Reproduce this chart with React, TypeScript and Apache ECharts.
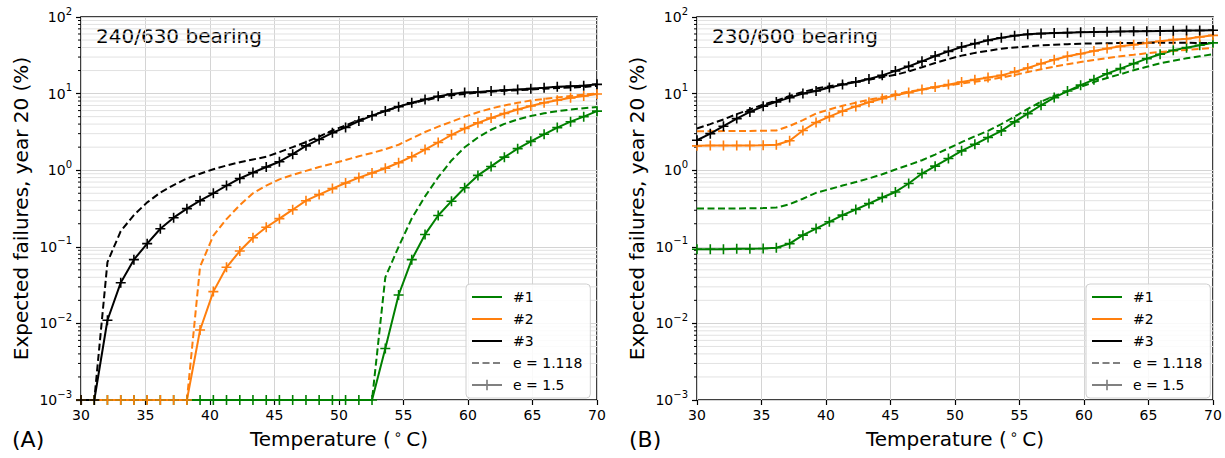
import React, { useEffect, useRef } from 'react';
import * as echarts from 'echarts';

// Temperature sample points (°C)
const TEMPS = [30.0, 31.03, 32.05, 33.08, 34.1, 35.13, 36.15, 37.18, 38.21, 39.23, 40.26, 41.28, 42.31, 43.33, 44.36, 45.38, 46.41, 47.44, 48.46, 49.49, 50.51, 51.54, 52.56, 53.59, 54.62, 55.64, 56.67, 57.69, 58.72, 59.74, 60.77, 61.79, 62.82, 63.85, 64.87, 65.9, 66.92, 67.95, 68.97, 70.0];

// Panel A: 240/630 bearing
const A1_E1118 = [0.001, 0.001, 0.001, 0.001, 0.001, 0.001, 0.001, 0.001, 0.001, 0.001, 0.001, 0.001, 0.001, 0.001, 0.001, 0.001, 0.001, 0.001, 0.001, 0.001, 0.001, 0.001, 0.001, 0.04, 0.1, 0.235, 0.455, 0.81, 1.34, 1.99, 2.67, 3.37, 4.02, 4.6, 5.1, 5.53, 5.9, 6.2, 6.45, 6.7];
const A1_E15 = [0.001, 0.001, 0.001, 0.001, 0.001, 0.001, 0.001, 0.001, 0.001, 0.001, 0.001, 0.001, 0.001, 0.001, 0.001, 0.001, 0.001, 0.001, 0.001, 0.001, 0.001, 0.001, 0.001, 0.0047, 0.0235, 0.068, 0.145, 0.256, 0.394, 0.59, 0.855, 1.12, 1.48, 1.91, 2.38, 2.94, 3.6, 4.3, 5.0, 5.9];
const A2_E1118 = [0.001, 0.001, 0.001, 0.001, 0.001, 0.001, 0.001, 0.001, 0.001, 0.055, 0.14, 0.23, 0.35, 0.5, 0.63, 0.76, 0.87, 0.98, 1.1, 1.22, 1.36, 1.52, 1.68, 1.88, 2.15, 2.6, 3.15, 3.7, 4.3, 5.0, 5.7, 6.4, 7.0, 7.6, 8.1, 8.5, 8.9, 9.3, 9.7, 10.0];
const A2_E15 = [0.001, 0.001, 0.001, 0.001, 0.001, 0.001, 0.001, 0.001, 0.001, 0.0082, 0.026, 0.054, 0.088, 0.131, 0.18, 0.233, 0.305, 0.4, 0.48, 0.575, 0.68, 0.8, 0.92, 1.06, 1.25, 1.5, 1.86, 2.3, 2.9, 3.5, 4.15, 4.8, 5.5, 6.2, 6.9, 7.6, 8.2, 8.8, 9.3, 9.9];
const A3_E1118 = [0.001, 0.001, 0.063, 0.16, 0.26, 0.38, 0.51, 0.64, 0.78, 0.9, 1.03, 1.15, 1.27, 1.38, 1.5, 1.72, 2.0, 2.33, 2.75, 3.3, 3.85, 4.5, 5.2, 5.95, 6.75, 7.5, 8.2, 8.9, 9.5, 9.9, 10.3, 10.6, 10.9, 11.1, 11.3, 11.6, 11.8, 12.0, 12.2, 12.6];
const A3_E15 = [0.001, 0.001, 0.011, 0.034, 0.068, 0.11, 0.172, 0.24, 0.315, 0.4, 0.5, 0.63, 0.78, 0.93, 1.1, 1.29, 1.62, 2.08, 2.52, 3.08, 3.62, 4.38, 5.15, 5.93, 6.76, 7.6, 8.4, 9.2, 9.9, 10.3, 10.5, 10.8, 11.1, 11.3, 11.6, 11.9, 12.3, 12.5, 12.7, 13.2];

// Panel B: 230/600 bearing
const B1_E1118 = [0.316, 0.316, 0.316, 0.317, 0.318, 0.32, 0.325, 0.36, 0.424, 0.507, 0.565, 0.63, 0.7, 0.78, 0.885, 1.02, 1.17, 1.35, 1.6, 1.93, 2.32, 2.77, 3.26, 4.0, 5.0, 6.3, 7.85, 9.3, 10.7, 12.3, 14.1, 16.0, 17.9, 20.2, 22.4, 24.8, 26.9, 28.9, 30.7, 32.6];
const B1_E15 = [0.093, 0.093, 0.093, 0.094, 0.094, 0.095, 0.097, 0.11, 0.142, 0.173, 0.212, 0.259, 0.307, 0.367, 0.44, 0.52, 0.67, 0.905, 1.13, 1.42, 1.79, 2.18, 2.67, 3.26, 4.27, 5.48, 7.04, 8.87, 10.8, 12.9, 15.2, 18.2, 21.2, 24.6, 28.6, 32.6, 36.7, 39.8, 42.8, 46.0];
const B2_E1118 = [3.23, 3.23, 3.24, 3.25, 3.26, 3.28, 3.3, 3.78, 4.5, 5.5, 6.2, 6.95, 7.6, 8.3, 9.0, 9.8, 10.6, 11.3, 12.0, 12.8, 13.5, 14.3, 15.1, 16.2, 17.5, 19.1, 20.8, 22.5, 24.2, 25.8, 27.5, 29.0, 30.7, 32.1, 33.6, 35.0, 36.1, 37.2, 38.3, 39.4];
const B2_E15 = [2.08, 2.1, 2.1, 2.1, 2.1, 2.12, 2.15, 2.42, 3.3, 4.2, 5.0, 5.9, 6.8, 7.7, 8.6, 9.5, 10.3, 11.3, 12.2, 13.1, 14.2, 15.2, 16.2, 17.3, 19.2, 21.6, 24.6, 27.7, 30.7, 33.2, 36.0, 38.7, 41.4, 43.5, 45.8, 48.2, 50.6, 52.1, 54.8, 57.6];
const B3_E1118 = [3.5, 4.0, 4.6, 5.4, 6.2, 7.2, 8.1, 9.3, 10.5, 11.6, 12.5, 13.4, 14.3, 15.2, 16.4, 17.6, 19.5, 22.1, 25.1, 28.2, 31.3, 34.0, 36.2, 38.6, 40.0, 41.3, 42.7, 43.4, 44.2, 44.9, 45.2, 45.4, 45.7, 45.8, 46.0, 46.2, 46.2, 46.0, 45.9, 45.7];
const B3_E15 = [2.46, 3.0, 3.75, 4.72, 5.77, 6.84, 7.79, 8.87, 10.0, 10.8, 12.0, 13.1, 14.2, 15.5, 17.3, 19.8, 22.7, 26.4, 31.0, 35.6, 40.6, 44.9, 49.6, 53.7, 57.1, 59.4, 60.7, 61.8, 62.5, 63.1, 63.6, 64.1, 64.6, 65.0, 65.4, 65.8, 66.1, 66.4, 66.7, 67.0];

const PANEL_TITLES = ['240/630 bearing', '230/600 bearing'];
const PANEL_LETTERS = ['(A)', '(B)'];
const LEGEND_NAMES = ['#1', '#2', '#3', 'e = 1.118', 'e = 1.5'];
const X_MIN = 30;
const X_MAX = 70;
const X_STEP = 5;
const Y_MIN = 0.001;
const Y_MAX = 100;
// minor log ticks (2..9 x each decade)
const MINOR_Y = [
  0.002, 0.003, 0.004, 0.005, 0.006, 0.007, 0.008, 0.009,
  0.02, 0.03, 0.04, 0.05, 0.06, 0.07, 0.08, 0.09,
  0.2, 0.3, 0.4, 0.5, 0.6, 0.7, 0.8, 0.9,
  2, 3, 4, 5, 6, 7, 8, 9,
  20, 30, 40, 50, 60, 70, 80, 90,
];

const FONT = 'DejaVu Sans';
const GREEN = '#008000';
const ORANGE = '#ff7f0e';
const BLACK = '#000000';
const GRAY = '#808080';
const CROSS = 'path://M4.2,0H5.8V4.2H10V5.8H5.8V10H4.2V5.8H0V4.2H4.2Z';
const DASH = [7, 3.5];

const GRIDS = [
  { left: 81, top: 17, width: 516, height: 383 },
  { left: 697, top: 17, width: 516, height: 383 },
];

const PANELS = [
  { curves: [[A1_E1118, A1_E15, GREEN], [A2_E1118, A2_E15, ORANGE], [A3_E1118, A3_E15, BLACK]] },
  { curves: [[B1_E1118, B1_E15, GREEN], [B2_E1118, B2_E15, ORANGE], [B3_E1118, B3_E15, BLACK]] },
];

function supLabel(v: number) {
  const e = Math.round(Math.log10(v));
  const s = e < 0 ? '\u2212' + String(-e) : String(e);
  return `{b|10}{s|${s}}`;
}

export default function App() {
  const ref = useRef<HTMLDivElement>(null);

  useEffect(() => {
    if (!ref.current) return;
    const chart = echarts.init(ref.current, undefined, { renderer: 'svg' });

    const xAxes = GRIDS.map((_, gi) => ({
      type: 'value',
      gridIndex: gi,
      min: X_MIN,
      max: X_MAX,
      interval: X_STEP,
      axisLine: { show: false },
      axisTick: { show: true, inside: false, length: 5, lineStyle: { color: '#000', width: 1.2 } },
      axisLabel: { color: '#000', fontSize: 14, fontFamily: FONT, margin: 8 },
      splitLine: { show: true, lineStyle: { color: '#d4d4d4', width: 1 } },
      name: '{t|Temperature (}{d|\u2009\u2218}{t|\u2009C)}',
      nameLocation: 'middle',
      nameGap: 26,
      nameTextStyle: {
        rich: {
          t: { fontSize: 20, fontFamily: FONT, color: '#000', lineHeight: 24 },
          d: { fontSize: 14, fontFamily: FONT, color: '#000', lineHeight: 14, verticalAlign: 'top' },
        },
      },
    }));

    const yAxes = GRIDS.map((_, gi) => ({
      type: 'log',
      logBase: 10,
      gridIndex: gi,
      min: Y_MIN,
      max: Y_MAX,
      axisLine: { show: false },
      axisTick: { show: true, inside: false, length: 5, lineStyle: { color: '#000', width: 1.2 } },
      axisLabel: {
        formatter: supLabel,
        margin: 9,
        rich: {
          b: { fontSize: 14, fontFamily: FONT, color: '#000', lineHeight: 22 },
          s: { fontSize: 10, fontFamily: FONT, color: '#000', lineHeight: 10, verticalAlign: 'top' },
        },
      },
      splitLine: { show: true, lineStyle: { color: '#d4d4d4', width: 1 } },
      name: 'Expected failures, year 20 (%)',
      nameLocation: 'middle',
      nameGap: 50,
      nameRotate: 90,
      nameTextStyle: { fontSize: 20, fontFamily: FONT, color: '#000' },
    }));

    const series: any[] = [];

    GRIDS.forEach((_, gi) => {
      series.push({
        type: 'custom',
        xAxisIndex: gi,
        yAxisIndex: gi,
        silent: true,
        z: 1,
        clip: false,
        data: MINOR_Y.map((v) => [X_MIN, v]),
        encode: { x: 0, y: 1 },
        renderItem: (params: any, api: any) => {
          const v = api.value(1);
          const a = api.coord([X_MIN, v]);
          const b = api.coord([X_MAX, v]);
          return {
            type: 'group',
            children: [
              { type: 'line', shape: { x1: a[0], y1: a[1], x2: b[0], y2: b[1] }, style: { stroke: '#e2e2e2', lineWidth: 1 } },
              { type: 'line', shape: { x1: a[0] - 3, y1: a[1], x2: a[0], y2: a[1] }, style: { stroke: '#000', lineWidth: 1 } },
            ],
          };
        },
      });
    });

    PANELS.forEach((p, gi) => {
      p.curves.forEach(([dashed, solid, color], ci) => {
        series.push({
          name: `p${gi}c${ci}d`,
          type: 'line',
          xAxisIndex: gi,
          yAxisIndex: gi,
          data: TEMPS.map((t, i) => [t, (dashed as number[])[i]]),
          symbol: 'none',
          lineStyle: { color, width: 2, type: DASH },
          itemStyle: { color },
          clip: false,
          silent: true,
          z: 3,
        });
        series.push({
          name: `p${gi}c${ci}s`,
          type: 'line',
          xAxisIndex: gi,
          yAxisIndex: gi,
          data: TEMPS.map((t, i) => [t, (solid as number[])[i]]),
          symbol: CROSS,
          symbolSize: 10,
          showSymbol: true,
          lineStyle: { color, width: 2, type: 'solid' },
          itemStyle: { color },
          clip: false,
          silent: true,
          z: 3,
        });
      });
    });

    // legend proxies
    const legendStyles: any[] = [
      { color: GREEN, type: 'solid', marker: false },
      { color: ORANGE, type: 'solid', marker: false },
      { color: BLACK, type: 'solid', marker: false },
      { color: GRAY, type: DASH, marker: false },
      { color: GRAY, type: 'solid', marker: true },
    ];
    LEGEND_NAMES.forEach((name, i) => {
      const s = legendStyles[i];
      series.push({
        name,
        type: 'line',
        xAxisIndex: 0,
        yAxisIndex: 0,
        data: [],
        symbol: s.marker ? CROSS : 'circle',
        symbolSize: 10,
        lineStyle: { color: s.color, width: 2.6, type: s.type },
        itemStyle: { color: s.marker ? s.color : 'rgba(0,0,0,0)' },
      });
    });

    const legends = [466, 1086].map((left) => ({
      data: LEGEND_NAMES,
      orient: 'vertical',
      left,
      top: 284,
      itemWidth: 30,
      itemHeight: 13,
      itemGap: 8,
      padding: [6, 8, 6, 5],
      backgroundColor: 'rgba(255,255,255,0.85)',
      borderColor: '#d0d0d0',
      borderWidth: 1,
      borderRadius: 4,
      selectedMode: false,
      textStyle: { fontSize: 14, fontFamily: FONT, color: '#000', padding: [0, 0, 0, 6] },
    }));

    const graphic: any[] = [];
    PANEL_TITLES.forEach((t, gi) => {
      graphic.push({
        type: 'text',
        left: GRIDS[gi].left + 15,
        top: 26,
        style: { text: t, fontSize: 20, fontFamily: FONT, fill: '#000' },
      });
    });
    PANEL_LETTERS.forEach((t, gi) => {
      graphic.push({
        type: 'text',
        left: gi === 0 ? 12 : 629,
        top: 428,
        style: { text: t, fontSize: 22, fontFamily: FONT, fill: '#000' },
      });
    });

    chart.setOption({
      animation: false,
      textStyle: { fontFamily: FONT },
      grid: GRIDS.map((g) => ({ ...g, show: true, borderColor: '#000', borderWidth: 1.5, backgroundColor: 'transparent' })),
      xAxis: xAxes,
      yAxis: yAxes,
      legend: legends,
      series,
      graphic,
    });

    return () => chart.dispose();
  }, []);

  return <div ref={ref} style={{ position: 'absolute', left: 0, top: 0, width: 1225, height: 458 }} />;
}
